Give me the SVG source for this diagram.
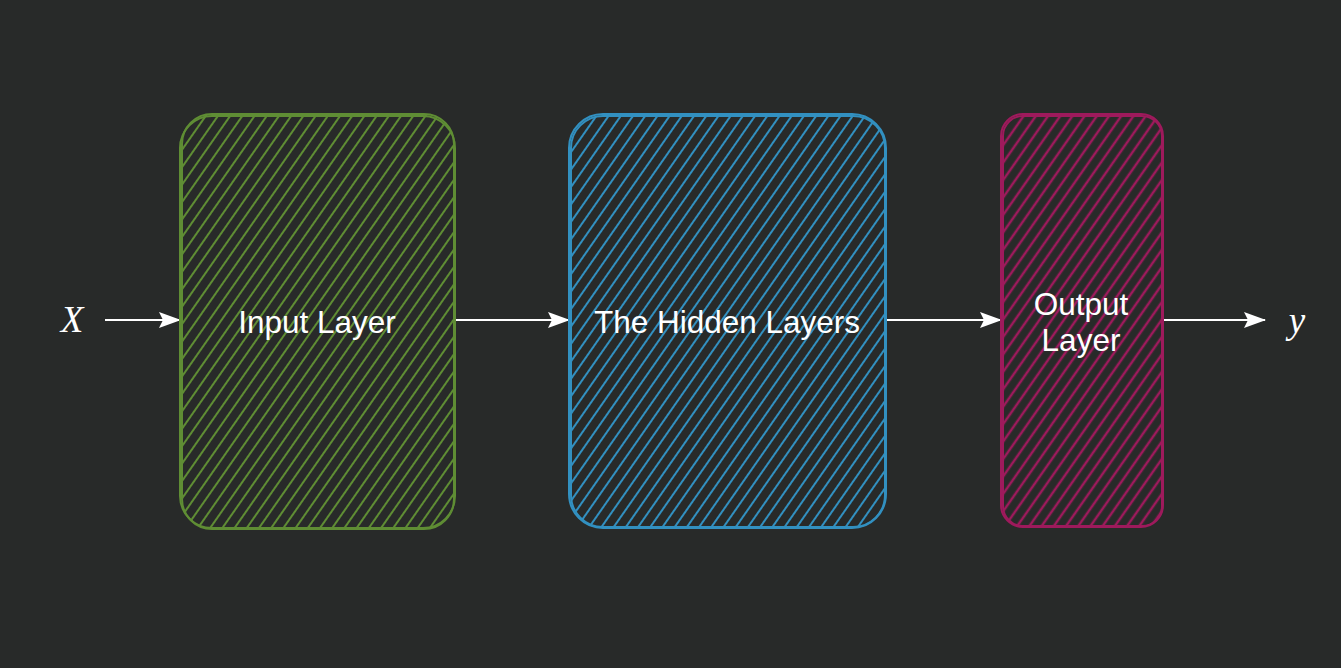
<svg xmlns="http://www.w3.org/2000/svg" width="1341" height="668" viewBox="0 0 1341 668">
<defs>
<style>
.lbl{font-family:"Liberation Sans",Arial,sans-serif;font-size:31.5px;fill:#ffffff;text-anchor:middle}
.math{font-family:"Liberation Serif","Times New Roman",serif;font-style:italic;font-size:37px;fill:#ffffff;text-anchor:middle}
.conn{stroke:#ffffff;stroke-width:2;fill:none}
.g{stroke:#5f8d34}
.b{stroke:#3290c0}
.p{stroke:#9e1a5c}
.out{fill:none;stroke-width:2}
</style>
<pattern id="hg" width="10" height="10" patternUnits="userSpaceOnUse" patternTransform="rotate(-55)"><line x1="0" y1="5" x2="10" y2="5" stroke="#5f8d34" stroke-width="2"/></pattern>
<pattern id="hb" width="10" height="10" patternUnits="userSpaceOnUse" patternTransform="rotate(-55)"><line x1="0" y1="5" x2="10" y2="5" stroke="#3290c0" stroke-width="2"/></pattern>
<pattern id="hp" width="10" height="10" patternUnits="userSpaceOnUse" patternTransform="rotate(-55)"><line x1="0" y1="5" x2="10" y2="5" stroke="#9e1a5c" stroke-width="2.5"/></pattern>
<marker id="ah" markerWidth="22" markerHeight="16" refX="21" refY="8" orient="auto" markerUnits="userSpaceOnUse" viewBox="0 0 22 16"><path d="M0,0 L22,8 L0,16 L4,8 Z" fill="#ffffff"/></marker>
</defs>
<rect width="1341" height="668" fill="#282a29"/>
<g id="connectors">
<line class="conn" x1="105" y1="320" x2="180" y2="320" marker-end="url(#ah)"/>
<line class="conn" x1="456" y1="320" x2="569" y2="320" marker-end="url(#ah)"/>
<line class="conn" x1="886" y1="320" x2="1001" y2="320" marker-end="url(#ah)"/>
<line class="conn" x1="1162" y1="320" x2="1265" y2="320" marker-end="url(#ah)"/>
</g>
<g id="node-input">
<rect x="182" y="114" width="272" height="415" rx="30" fill="url(#hg)"/>
<rect class="out g" x="182" y="114" width="272" height="415" rx="30"/>
<rect class="out g" x="180" y="116" width="275" height="412" rx="32" stroke-width="1"/>
<text class="lbl" x="317" y="333">Input Layer</text>
</g>
<g id="node-hidden">
<rect x="571" y="116" width="314" height="411" rx="32" fill="url(#hb)"/>
<rect class="out b" x="571" y="116" width="314" height="411" rx="32"/>
<rect class="out b" x="569" y="114" width="317" height="414" rx="34" stroke-width="1"/>
<text class="lbl" x="727" y="333">The Hidden Layers</text>
</g>
<g id="node-output">
<rect x="1003" y="116" width="159" height="410" rx="20" fill="url(#hp)"/>
<rect class="out p" x="1003" y="116" width="159" height="410" rx="20"/>
<rect class="out p" x="1001" y="114" width="162" height="413" rx="22" stroke-width="1"/>
<text class="lbl" x="1081" y="315">Output</text>
<text class="lbl" x="1081" y="351">Layer</text>
</g>
<g id="node-x"><text class="math" x="72" y="332">X</text></g>
<g id="node-y"><text class="math" x="1297" y="333">y</text></g>
</svg>
